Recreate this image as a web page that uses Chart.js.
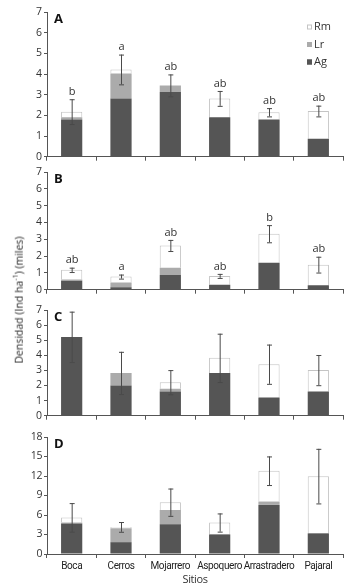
<!DOCTYPE html>
<html lang="es">
<head>
  <meta charset="UTF-8">
  <title>Densidad por sitio</title>
  <script src="https://cdn.jsdelivr.net/npm/chart.js"></script>
  <style>
    body { margin: 0; background: #fff; font-family: "Open Sans", sans-serif; }
    #wrap { position: relative; width: 360px; height: 585px; overflow: hidden; }
    canvas { position: absolute; left: 0; }
    #ytitle {
      position: absolute; left: 18px; top: 300px; z-index: 5;
      transform: translate(-50%, -50%) rotate(-90deg);
      white-space: nowrap; font-size: 10.5px; color: #222;
    }
    #ytitle sup { font-size: 7px; }
  </style>
</head>
<body>
  <div id="wrap">
    <canvas id="cA" style="top:0px"></canvas>
    <canvas id="cB" style="top:160px"></canvas>
    <canvas id="cC" style="top:298px"></canvas>
    <canvas id="cD" style="top:425px"></canvas>
    <div id="ytitle">Densidad (Ind ha<sup>-1</sup>) (miles)</div>
  </div>
  <script>
    // datos (miles de ind/ha)
    const sitios = ['Boca', 'Cerros', 'Mojarrero', 'Aspoquero', 'Arrastradero', 'Pajaral'];
    const especies = ['Ag', 'Lr', 'Rm'];

    // Panel A
    const agA = [1.80, 2.82, 3.13, 1.91, 1.80, 0.87];
    const lrA = [0.11, 1.20, 0.32, 0, 0, 0];
    const rmA = [0.27, 0.20, 0, 0.91, 0.35, 1.34];
    const errA = [0.60, 0.72, 0.53, 0.36, 0.20, 0.26];
    const sigA = ['b', 'a', 'ab', 'ab', 'ab', 'ab'];

    // Panel B
    const agB = [0.53, 0.14, 0.88, 0.29, 1.61, 0.27];
    const lrB = [0.08, 0.29, 0.43, 0, 0, 0];
    const rmB = [0.57, 0.35, 1.32, 0.53, 1.72, 1.22];
    const errB = [0.13, 0.12, 0.33, 0.12, 0.51, 0.47];
    const sigB = ['ab', 'a', 'ab', 'ab', 'b', 'ab'];

    // Panel C
    const agC = [5.22, 2.00, 1.61, 2.83, 1.20, 1.61];
    const lrC = [0, 0.83, 0.17, 0, 0, 0];
    const rmC = [0, 0, 0.44, 1.00, 2.21, 1.41];
    const errC = [1.67, 1.40, 0.80, 1.60, 1.30, 1.00];

    // Panel D
    const agD = [4.69, 1.82, 4.58, 3.02, 7.55, 3.18];
    const lrD = [0.15, 2.14, 2.19, 0, 0.52, 0];
    const rmD = [0.79, 0.21, 1.20, 1.82, 4.74, 8.80];
    const errD = [2.20, 0.75, 2.10, 1.40, 2.20, 4.20];

    const colores = { Ag: '#555555', Lr: '#ababab', Rm: '#ffffff' };
    const bordes = { Ag: '#555555', Lr: '#ababab', Rm: '#c4c4c4' };
    const FONT = '"Open Sans", sans-serif';
    const NARROW = 'Roboto, sans-serif';

    // barras de error, letras de significancia, letra del panel y leyenda
    const extras = {
      id: 'extras',
      beforeDraw(chart, args, opts) {
        // etiquetas del eje x un poco mas juntas (solo panel D)
        if (opts.letter === 'D') chart.ctx.letterSpacing = '-0.4px';
      },
      beforeDatasetsDraw(chart) {
        chart.ctx.letterSpacing = '0px';
      },
      afterDatasetsDraw(chart, args, opts) {
        const ctx = chart.ctx;
        const y = chart.scales.y;
        const area = chart.chartArea;
        const meta = chart.getDatasetMeta(0);
        ctx.save();
        sitios.forEach((s, i) => {
          let total = 0;
          chart.data.datasets.forEach(ds => { total += ds.data[i]; });
          const e = opts.err[i];
          const px = meta.data[i].x;
          const top = y.getPixelForValue(total + e);
          const bot = y.getPixelForValue(total - e);
          ctx.strokeStyle = '#4a4a4a';
          ctx.lineWidth = 1;
          ctx.beginPath();
          ctx.moveTo(px + 0.5, top); ctx.lineTo(px + 0.5, bot);
          ctx.moveTo(px - 2, top + 0.5); ctx.lineTo(px + 3, top + 0.5);
          ctx.moveTo(px - 2, bot + 0.5); ctx.lineTo(px + 3, bot + 0.5);
          ctx.stroke();
          if (opts.sig) {
            ctx.fillStyle = '#333';
            ctx.font = '11px ' + FONT;
            ctx.textAlign = 'center';
            ctx.textBaseline = 'bottom';
            ctx.fillText(opts.sig[i], px + 0.5, top - 2);
          }
        });
        ctx.fillStyle = '#111';
        ctx.font = 'bold 13px ' + FONT;
        ctx.textAlign = 'left';
        ctx.textBaseline = 'top';
        ctx.fillText(opts.letter, area.left + 7, area.top + 1);
        if (opts.legend) {
          ctx.font = '11px ' + FONT;
          ctx.textBaseline = 'middle';
          ['Rm', 'Lr', 'Ag'].forEach((sp, k) => {
            const cy = area.top + 15 + k * 17.5;
            ctx.fillStyle = colores[sp];
            ctx.strokeStyle = bordes[sp] === '#ffffff' ? '#bbb' : bordes[sp];
            ctx.fillRect(area.right - 36, cy - 2.5, 5, 5);
            ctx.strokeRect(area.right - 35.5, cy - 2, 4, 4);
            ctx.fillStyle = '#333';
            ctx.fillText(sp, area.right - 29, cy);
          });
        }
        ctx.restore();
      }
    };

    function panel(id, h, ag, lr, rm, err, sig, letter, ymax, step, last) {
      const series = { Ag: ag, Lr: lr, Rm: rm };
      const el = document.getElementById(id);
      el.width = 360; el.height = h;
      el.style.width = '360px'; el.style.height = h + 'px';
      return new Chart(el, {
        type: 'bar',
        data: {
          labels: sitios,
          datasets: especies.map(sp => ({
            label: sp,
            data: series[sp],
            backgroundColor: colores[sp],
            borderColor: bordes[sp],
            borderWidth: sp === 'Rm' ? 1 : 0,
            barPercentage: 1,
            categoryPercentage: 0.43
          }))
        },
        options: {
          responsive: false,
          animation: false,
          layout: { padding: { top: 12, right: 17, left: 0, bottom: 0 } },
          scales: {
            x: {
              stacked: true,
              grid: { offset: true, drawOnChartArea: false, drawTicks: true, tickLength: 4, color: '#555' },
              border: { color: '#555' },
              ticks: { display: last, color: '#222', font: { size: 10, family: NARROW }, padding: 2, maxRotation: 0, autoSkip: false },
              title: { display: last, text: 'Sitios', color: '#333', font: { size: 11, family: FONT }, padding: 0 },
              afterFit: s => { s.height = last ? 32 : 6; }
            },
            y: {
              stacked: true,
              min: 0, max: ymax,
              grid: { drawOnChartArea: false, drawTicks: true, tickLength: 3, color: '#555' },
              border: { color: '#555' },
              ticks: { stepSize: step, color: '#333', font: { size: 10.5, family: FONT }, padding: 2 },
              afterFit: s => { s.width = 47; }
            }
          },
          plugins: {
            legend: { display: false },
            tooltip: { enabled: false },
            extras: { err: err, sig: sig, letter: letter, legend: letter === 'A' }
          }
        },
        plugins: [extras]
      });
    }

    panel('cA', 165, agA, lrA, rmA, errA, sigA, 'A', 7, 1, false);
    panel('cB', 138, agB, lrB, rmB, errB, sigB, 'B', 7, 1, false);
    panel('cC', 126, agC, lrC, rmC, errC, null, 'C', 7, 1, false);
    panel('cD', 161, agD, lrD, rmD, errD, null, 'D', 18, 3, true);
  </script>
</body>
</html>
